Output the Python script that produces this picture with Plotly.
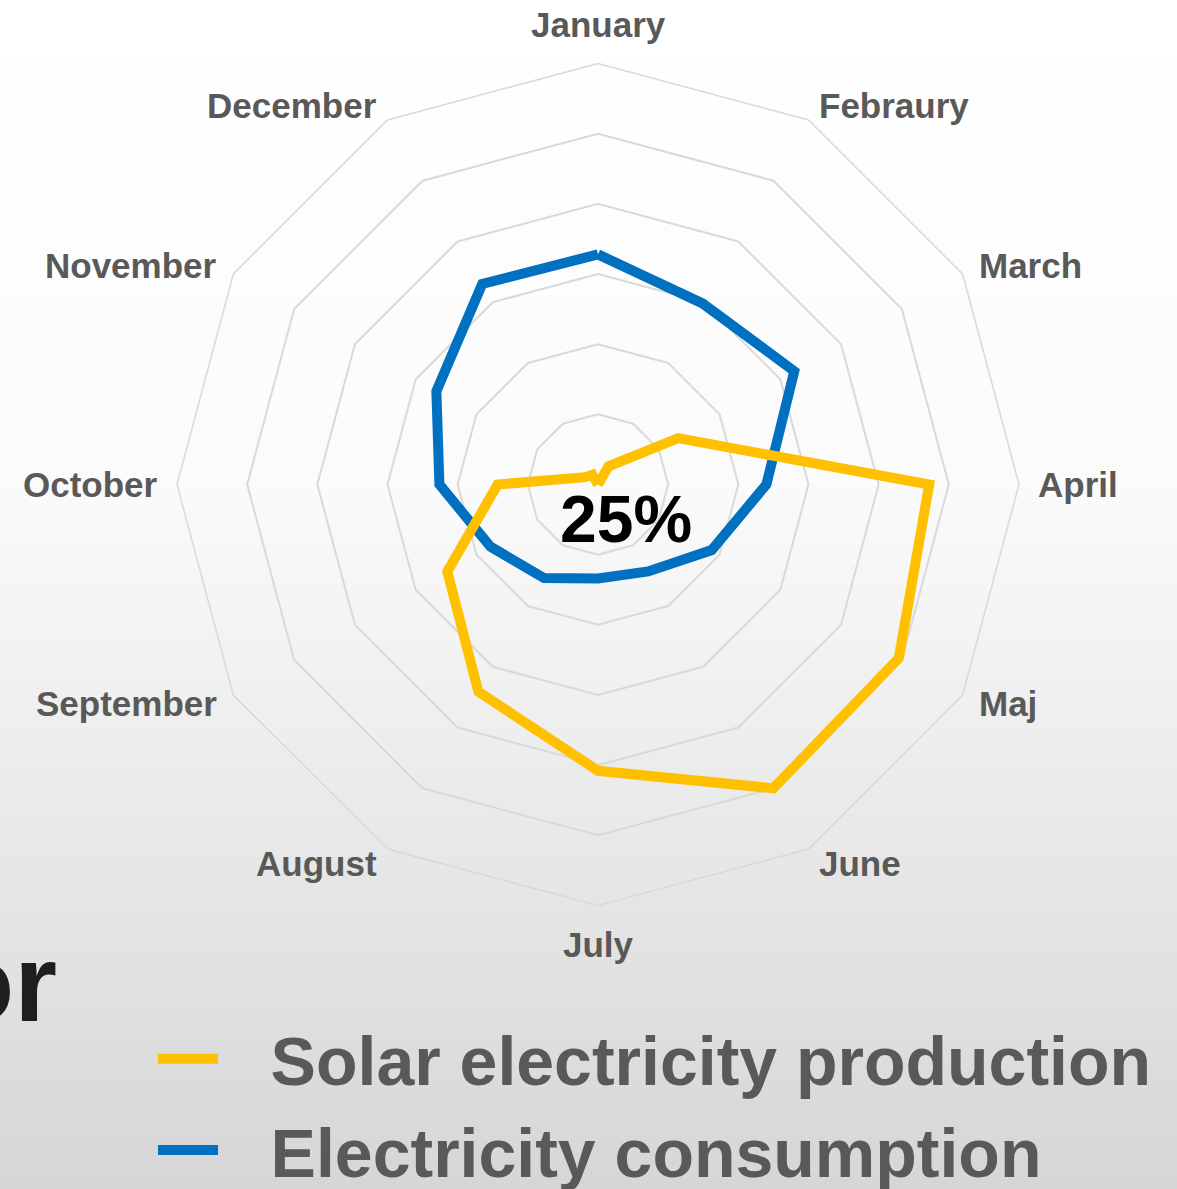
import math
import plotly.graph_objects as go

# ---- data (values in radial grid units, 6 rings) ----
months = ["January", "Febraury", "March", "April", "Maj", "June",
          "July", "August", "September", "October", "November", "December"]
solar = [0.0, 0.3, 1.32, 4.72, 4.95, 5.0, 4.08, 3.41, 2.48, 1.43, 0.21, 0.16]
consumption = [3.28, 2.98, 3.23, 2.40, 1.87, 1.43, 1.34, 1.54, 1.77, 2.26, 2.66, 3.30]
series_names = ["Solar electricity production", "Electricity consumption"]
center_label = "25%"
cut_title = "or"

W, H = 1177, 1189
FONT = "Arial, Liberation Sans, Helvetica, sans-serif"
GRID = "#d9d9d9"
LABEL = "#595959"
GAP = "\u2002\u2009"  # space between legend symbol and its text

fig = go.Figure()
fig.add_trace(go.Scatterpolar(
    r=consumption + consumption[:1], theta=months + months[:1],
    mode="lines", name=GAP + series_names[1],
    line=dict(color="#0070C0", width=10), hoverinfo="skip"))
fig.add_trace(go.Scatterpolar(
    r=solar + solar[:1], theta=months + months[:1],
    mode="lines", name=GAP + series_names[0],
    line=dict(color="#FFC000", width=10), hoverinfo="skip"))

# background gradient (white top -> light grey bottom), overlapping bands
shapes = []
n = 120
for i in range(n):
    y0 = i * H / n
    ym = y0 + H / n / 2
    if ym < 480:
        v = 255 - 4 * ym / 480
    else:
        v = 251 - 37 * (ym - 480) / (H - 480)
    v = int(round(v))
    shapes.append(dict(type="rect", xref="paper", yref="paper", layer="below",
                       x0=0, x1=1, y0=0, y1=1 - y0 / H,
                       fillcolor=f"rgb({v},{v},{v})", line=dict(width=0)))

# polar geometry (pixels)
cx, cy, R = 598, 484.5, 421
LABEL_GAP = 17

# category labels placed just outside each spoke end (Excel-style placement)
annotations = []
nm = len(months)
for i, m in enumerate(months):
    ang = math.radians(90 - i * 360 / nm)
    c, s = math.cos(ang), math.sin(ang)
    px = cx + (R + LABEL_GAP) * c
    py = cy - (R + LABEL_GAP) * s
    xa = "center" if abs(c) < 0.1 else ("left" if c > 0 else "right")
    ya = "middle" if abs(s) < 0.99 else ("bottom" if s > 0 else "top")
    annotations.append(dict(text=m, xref="paper", yref="paper", x=px / W, y=1 - py / H,
                            xanchor=xa, yanchor=ya, showarrow=False,
                            font=dict(family=FONT, size=35, color=LABEL, weight="bold")))

annotations += [
    dict(text=center_label, xref="paper", yref="paper", x=626 / W, y=1 - 519 / H,
         xanchor="center", yanchor="middle", showarrow=False,
         font=dict(family=FONT, size=66, color="black", weight="bold")),
    dict(text=cut_title, xref="paper", yref="paper", x=59 / W, y=1 - 982 / H,
         xanchor="right", yanchor="middle", showarrow=False,
         font=dict(family=FONT, size=110, color="#1e1e1e", weight="bold")),
]

fig.update_layout(
    width=W, height=H,
    margin=dict(l=0, r=0, t=0, b=0, autoexpand=False),
    paper_bgcolor="white",
    shapes=shapes,
    showlegend=True,
    polar=dict(
        domain=dict(x=[(cx - R) / W, (cx + R) / W],
                    y=[1 - (cy + R) / H, 1 - (cy - R) / H]),
        bgcolor="rgba(0,0,0,0)",
        gridshape="linear",
        radialaxis=dict(range=[0, 6], tick0=0, dtick=1, showticklabels=False,
                        ticks="", showline=False, gridcolor=GRID, gridwidth=1.5),
        angularaxis=dict(direction="clockwise", rotation=90, showgrid=False,
                         showline=True, linecolor=GRID, linewidth=1.5,
                         ticks="", showticklabels=False),
    ),
    legend=dict(x=153 / W, y=1 - 1008 / H, xanchor="left", yanchor="top",
                traceorder="reversed", itemwidth=60,
                bgcolor="rgba(0,0,0,0)",
                font=dict(family=FONT, size=68, color=LABEL, weight="bold")),
    annotations=annotations,
)

fig.write_html("out.html", config={"displayModeBar": False},
               post_script="document.body.style.margin='0px';document.body.style.overflow='hidden';")
